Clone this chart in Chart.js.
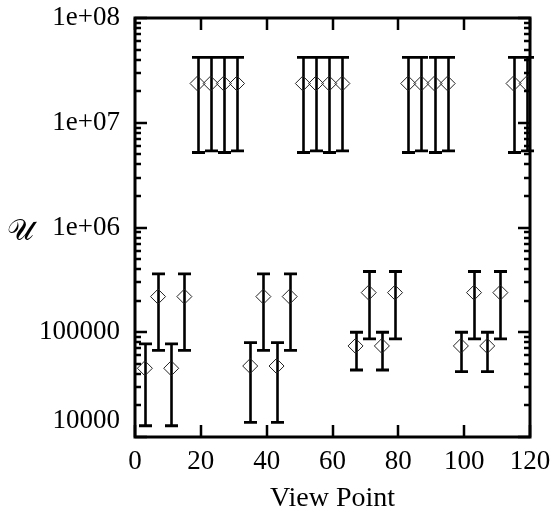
<!DOCTYPE html>
<html><head><meta charset="utf-8">
<script src="https://cdn.jsdelivr.net/npm/chart.js@4.4.0/dist/chart.umd.min.js"></script>
<style>
html,body{margin:0;padding:0;background:#fff;}
#wrap{position:relative;width:550px;height:508px;}
#ylab{position:absolute;left:7px;top:210px;font-family:"DejaVu Serif","DejaVu Sans","Noto Sans",serif;font-size:30px;line-height:40px;color:#000;}
</style></head>
<body><div id="wrap"><canvas id="c" width="550" height="508"></canvas><div id="ylab">𝒰</div></div>
<script>
// ---- data ----
const upperX    = [19, 23, 27, 31, 51, 55, 59, 63, 83, 87, 91, 95, 115, 119];
const upperVal  = [2.37e7, 2.37e7, 2.37e7, 2.37e7, 2.37e7, 2.37e7, 2.37e7, 2.37e7, 2.37e7, 2.37e7, 2.37e7, 2.37e7, 2.37e7, 2.37e7];
const upperLow  = [5.2e6, 5.4e6, 5.2e6, 5.4e6, 5.2e6, 5.4e6, 5.2e6, 5.4e6, 5.2e6, 5.4e6, 5.2e6, 5.4e6, 5.2e6, 5.4e6];
const upperHigh = [4.2e7, 4.2e7, 4.2e7, 4.2e7, 4.2e7, 4.2e7, 4.2e7, 4.2e7, 4.2e7, 4.2e7, 4.2e7, 4.2e7, 4.2e7, 4.2e7];

const lowerX    = [3, 7, 11, 15, 35, 39, 43, 47, 67, 71, 75, 79, 99, 103, 107, 111];
const lowerVal  = [45300, 219000, 45300, 219000, 47600, 219000, 47600, 219000, 74000, 239000, 74000, 239000, 74000, 239000, 74000, 239000];
const lowerLow  = [12800, 67000, 12800, 67000, 13800, 67000, 13800, 67000, 43600, 86300, 43600, 86300, 42000, 86300, 42000, 86300];
const lowerHigh = [77300, 361000, 77300, 361000, 79600, 361000, 79600, 361000, 100000, 380000, 100000, 380000, 100000, 380000, 100000, 380000];

const yTickValues = [1e4, 1e5, 1e6, 1e7, 1e8];
const yTickLabels = ["10000", "100000", "1e+06", "1e+07", "1e+08"];
const xTickValues = [0, 20, 40, 60, 80, 100, 120];
const xTitle = "View Point";

// ---- build datasets ----
function pts(xs, vs) { return xs.map((x, i) => ({x: x, y: vs[i]})); }
const serif = "'Liberation Serif', 'Times New Roman', serif";

const errorBars = {
  id: 'errorBars',
  beforeDatasetsDraw(chart) {
    const ctx = chart.ctx, xs = chart.scales.x, ys = chart.scales.y;
    ctx.save();
    ctx.strokeStyle = '#000';
    chart.data.datasets.forEach(ds => {
      ds.data.forEach((p, i) => {
        const px = Math.round(xs.getPixelForValue(p.x)) + 0.5;
        const pl = ys.getPixelForValue(ds.errLow[i]);
        const ph = ys.getPixelForValue(ds.errHigh[i]);
        ctx.lineWidth = 2.6;
        ctx.beginPath(); ctx.moveTo(px, pl); ctx.lineTo(px, ph); ctx.stroke();
        ctx.lineWidth = 2.8;
        ctx.beginPath();
        ctx.moveTo(px - 6.5, pl); ctx.lineTo(px + 6.5, pl);
        ctx.moveTo(px - 6.5, ph); ctx.lineTo(px + 6.5, ph);
        ctx.stroke();
      });
    });
    ctx.restore();
  }
};

const frame = {
  id: 'frame',
  afterDraw(chart) {
    const ctx = chart.ctx, a = chart.chartArea, xs = chart.scales.x, ys = chart.scales.y;
    ctx.save();
    ctx.strokeStyle = '#000';
    ctx.lineWidth = 2.5;
    ctx.beginPath();
    xTickValues.forEach(v => {
      const px = Math.round(xs.getPixelForValue(v));
      ctx.moveTo(px, a.bottom); ctx.lineTo(px, a.bottom - 12);
      ctx.moveTo(px, a.top); ctx.lineTo(px, a.top + 12);
    });
    for (let d = 0; d < yTickValues.length; d++) {
      const dec = yTickValues[d];
      for (let m = 1; m <= 9; m++) {
        const v = dec * m;
        if (v > yTickValues[yTickValues.length - 1]) break;
        const py = Math.round(ys.getPixelForValue(v));
        const len = m === 1 ? 12 : 6;
        ctx.moveTo(a.left, py); ctx.lineTo(a.left + len, py);
        ctx.moveTo(a.right, py); ctx.lineTo(a.right - len, py);
      }
    }
    ctx.stroke();
    ctx.lineWidth = 3;
    ctx.strokeRect(a.left, a.top, a.right - a.left, a.bottom - a.top);
    ctx.restore();
  }
};

new Chart(document.getElementById('c'), {
  type: 'scatter',
  data: {
    datasets: [
      { data: pts(upperX, upperVal), errLow: upperLow, errHigh: upperHigh },
      { data: pts(lowerX, lowerVal), errLow: lowerLow, errHigh: lowerHigh }
    ].map(d => Object.assign(d, {
      pointStyle: 'rectRot', pointRadius: 7.5, pointHoverRadius: 7.5,
      borderColor: '#222', borderWidth: 1, backgroundColor: 'rgba(0,0,0,0)'
    }))
  },
  options: {
    responsive: false, animation: false, events: [],
    layout: { padding: { top: 18, right: 20, left: 0, bottom: 0 } },
    plugins: { legend: { display: false }, tooltip: { enabled: false } },
    scales: {
      x: {
        type: 'linear', min: 0, max: 120,
        afterBuildTicks: s => { s.ticks = xTickValues.map(v => ({value: v})); },
        afterFit: s => { s.height = 71; s.paddingLeft = 0; s.paddingRight = 0; },
        grid: { display: false, drawTicks: false }, border: { display: false },
        ticks: { padding: 9, color: '#000', font: { family: serif, size: 27 }, maxRotation: 0, autoSkip: false },
        title: { display: true, text: xTitle, color: '#000', font: { family: serif, size: 28, lineHeight: 0.66 }, padding: { top: 0, bottom: 0 } }
      },
      y: {
        type: 'logarithmic', min: 1e4, max: 1e8,
        afterBuildTicks: s => { s.ticks = yTickValues.map(v => ({value: v, major: true})); },
        afterFit: s => { s.width = 135; s.paddingTop = 0; s.paddingBottom = 0; },
        grid: { display: false, drawTicks: false }, border: { display: false },
        ticks: {
          padding: 15, color: '#000', font: { family: serif, size: 27 }, autoSkip: false,
          callback: (v, i) => i === 0 ? [yTickLabels[i], ''] : yTickLabels[i]
        }
      }
    }
  },
  plugins: [errorBars, frame]
});
</script>
</body></html>
